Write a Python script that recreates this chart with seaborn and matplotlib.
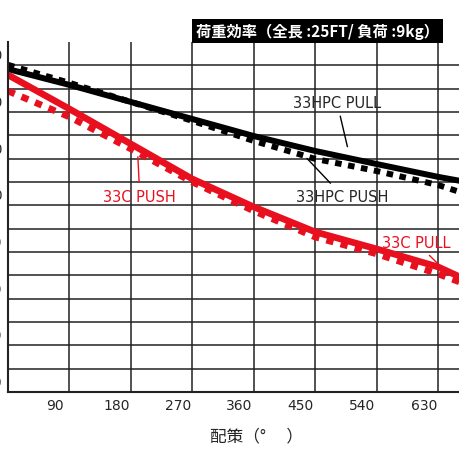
import numpy as np
import pandas as pd
import seaborn as sns
import matplotlib.pyplot as plt

# angle (deg) and load efficiency
angle = [0, 90, 180, 270, 360, 450, 540, 630, 662]
hpc_pull = [138.4, 131.6, 124.3, 117.0, 109.7, 103.3, 97.7, 92.2, 90.5]
hpc_push = [140.2, 132.5, 124.3, 116.2, 107.6, 99.9, 94.7, 88.7, 85.7]
c_pull = [135.9, 121.3, 106.3, 91.3, 79.3, 68.6, 61.3, 53.6, 49.3]
c_push = [129.0, 117.9, 104.2, 90.0, 77.6, 66.4, 59.2, 50.6, 47.1]
xtick_labels = ['90', '180', '270', '360', '450', '540', '630']
ytick_labels = ['150', '130', '110', '90', '70', '50', '30', '10']

sns.set_style('white')
plt.rcParams['font.family'] = ['Noto Sans CJK JP', 'DejaVu Sans']

fig = plt.figure(figsize=(4.6, 4.6), dpi=100)
ax = fig.add_axes([8 / 460, 67 / 460, 452 / 460, 350 / 460])

df = pd.DataFrame({'angle': angle, 'hpc_pull': hpc_pull, 'hpc_push': hpc_push,
                   'c_pull': c_pull, 'c_push': c_push})
sns.lineplot(data=df, x='angle', y='hpc_pull', color='black', lw=4.3, ax=ax)
sns.lineplot(data=df, x='angle', y='hpc_push', color='black', lw=4.3, ax=ax,
             linestyle=(0, (1.1, 1.1)))
sns.lineplot(data=df, x='angle', y='c_pull', color='#e8101e', lw=4.8, ax=ax)
sns.lineplot(data=df, x='angle', y='c_push', color='#e8101e', lw=4.8, ax=ax,
             linestyle=(0, (1.1, 1.1)))

ax.set_xticks(np.arange(90, 662, 90))
ax.set_xticklabels([])
ax.set_yticks(np.arange(10, 150, 10))
ax.set_yticklabels([])
ax.set_xticks(np.arange(90, 640, 90) - 21, minor=True)
ax.set_xticklabels(xtick_labels, minor=True, fontsize=10, family='DejaVu Sans')
ax.set_yticks(np.arange(145, 0, -20), minor=True)
ax.set_yticklabels(ytick_labels, minor=True, fontsize=10, family='DejaVu Sans')
ax.set_xlim(0, 662)
ax.set_ylim(0, 150)
ax.tick_params(which='both', length=0, pad=4)
ax.grid(True, color='#222222', lw=1.1)
for s in ['left', 'bottom']:
    ax.spines[s].set_color('#222222')
    ax.spines[s].set_linewidth(1.5)
ax.spines['top'].set_visible(False)
ax.spines['right'].set_visible(False)
ax.set_xlabel('')
ax.set_ylabel('')

# callouts
ax.annotate('33HPC PULL', xy=(498, 104), xytext=(482, 124), fontsize=10.5,
            ha='center', va='center', family='DejaVu Sans',
            arrowprops=dict(arrowstyle='-', color='black', lw=1))
ax.annotate('33HPC PUSH', xy=(435, 101), xytext=(490, 84), fontsize=10.5,
            ha='center', va='center', family='DejaVu Sans',
            arrowprops=dict(arrowstyle='-', color='black', lw=1))
ax.annotate('33C PUSH', xy=(190, 102), xytext=(193, 84), fontsize=10.5,
            ha='center', va='center', color='#e8101e', family='DejaVu Sans',
            arrowprops=dict(arrowstyle='-', color='#e8101e', lw=1))
ax.annotate('33C PULL', xy=(647, 50), xytext=(548, 64), fontsize=10.5,
            ha='left', va='center', color='#e8101e', family='DejaVu Sans',
            arrowprops=dict(arrowstyle='-', color='#e8101e', lw=1))

fig.text(196 / 460, 1 - 32 / 460, '荷重効率（全長 :25FT/ 負荷 :9kg）', color='white',
         fontsize=11, fontweight='bold', ha='left', va='center',
         bbox=dict(facecolor='black', edgecolor='none', pad=2.5))
fig.text(257 / 460, 1 - 437 / 460, '配策（°　 ）', fontsize=12, ha='center', va='center')

fig.savefig('out.png', dpi=100)
